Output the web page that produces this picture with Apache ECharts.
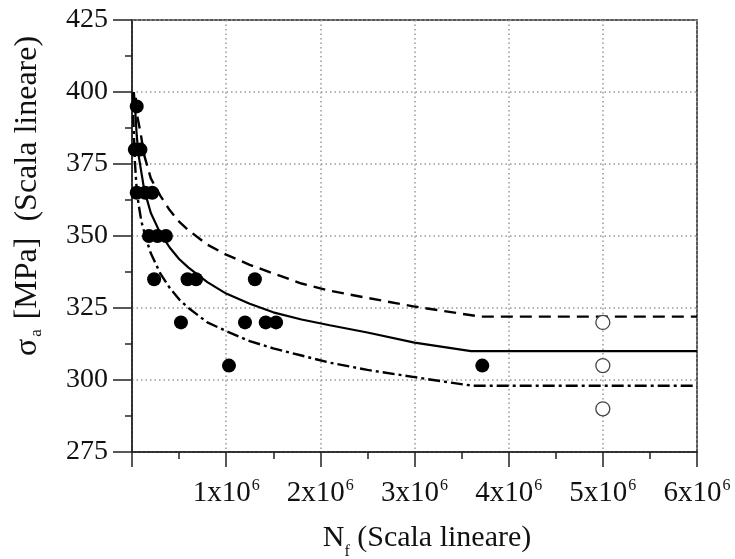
<!DOCTYPE html>
<html>
<head>
<meta charset="utf-8">
<script src="https://cdn.jsdelivr.net/npm/echarts@6/dist/echarts.min.js"></script>
<style>html,body{margin:0;padding:0;background:#fff;}#c{width:735px;height:559px;}</style>
</head>
<body>
<div id="c"></div>
<script>
// Tick values
const xTicks = [0, 1000000, 2000000, 3000000, 4000000, 5000000, 6000000];
const yTicks = [275, 300, 325, 350, 375, 400, 425];

// Failed specimens [Nf, sigma_a]
const failed = [
  [50000, 395],
  [30000, 380], [90000, 380],
  [50000, 365], [140000, 365], [215000, 365],
  [180000, 350], [270000, 350], [360000, 350],
  [235000, 335], [590000, 335], [680000, 335], [1305000, 335],
  [520000, 320], [1200000, 320], [1420000, 320], [1530000, 320],
  [1030000, 305],
  [3720000, 305]
];
// Run-outs [Nf, sigma_a]
const runouts = [[5000000, 320], [5000000, 305], [5000000, 290]];

// Curves [Nf, sigma_a]
const meanCurve = [[20000,400],[30000,396],[50000,385],[70000,378],[100000,372],[130000,366],[200000,358],[300000,351],[400000,346],[500000,342],[600000,339],[800000,334],[1000000,330],[1250000,326.5],[1500000,323.5],[1800000,321],[2100000,319],[2500000,316.5],[3000000,313],[3300000,311.5],[3600000,310],[6000000,310]];
const upperCurve = [[40000,398],[60000,391],[90000,386],[130000,378],[200000,370],[300000,364],[400000,359],[500000,355],[600000,352],[800000,347],[1000000,343.5],[1250000,340],[1500000,337],[1800000,333.5],[2100000,331],[2500000,328.5],[3000000,325.5],[3300000,324],[3700000,322],[6000000,322]];
const lowerCurve = [[8000,400],[15000,390],[30000,376],[50000,366],[70000,361],[100000,355],[150000,349],[200000,344],[300000,337],[400000,332],[500000,328],[600000,325],[800000,320],[1000000,317],[1250000,313.5],[1500000,311],[1800000,308.5],[2100000,306],[2500000,303.5],[3000000,301],[3300000,299.5],[3620000,298],[6000000,298]];

const FONT = 'Liberation Serif';
const chart = echarts.init(document.getElementById('c'));
const lineBase = {type:'line', showSymbol:false, smooth:false, silent:true, z:2};
chart.setOption({
  animation:false,
  backgroundColor:'#fff',
  grid:{left:132, right:38, top:20, bottom:107, show:true, borderColor:'#222', borderWidth:1.5, backgroundColor:'transparent'},
  xAxis:{
    type:'value', min:xTicks[0], max:xTicks[xTicks.length-1], interval:1000000,
    axisLine:{show:true, lineStyle:{color:'#222', width:1.5}},
    axisTick:{show:true, length:15, lineStyle:{color:'#222', width:1.5}},
    minorTick:{show:true, splitNumber:2, length:7, lineStyle:{color:'#222', width:1.5}},
    splitLine:{show:true, lineStyle:{color:'#999', width:1.5, type:[1.5,3]}},
    axisLabel:{
      margin:26, color:'#111', fontFamily:FONT,
      formatter:function(v){ return v===0 ? '' : '{b|' + (v/1000000) + 'x10}{s|6}'; },
      rich:{b:{fontSize:29, fontFamily:FONT, color:'#111', lineHeight:30, verticalAlign:'bottom'}, s:{fontSize:16, fontFamily:FONT, color:'#111', verticalAlign:'top', lineHeight:30, padding:[0,0,14,1]}}
    }
  },
  yAxis:{
    type:'value', min:yTicks[0], max:yTicks[yTicks.length-1], interval:25,
    axisLine:{show:true, lineStyle:{color:'#222', width:1.5}},
    axisTick:{show:true, length:19, lineStyle:{color:'#222', width:1.5}},
    minorTick:{show:true, splitNumber:2, length:7, lineStyle:{color:'#222', width:1.5}},
    splitLine:{show:true, lineStyle:{color:'#999', width:1.5, type:[1.5,3]}},
    axisLabel:{margin:24, fontSize:28, fontFamily:FONT, color:'#111'}
  },
  graphic:[
    {type:'text', x:28, y:196, rotation:Math.PI/2, silent:true,
     style:{text:'{a|σ}{s|a}{a| [MPa]  (Scala lineare)}', align:'center', verticalAlign:'middle',
       rich:{a:{fontSize:32, fontFamily:FONT, fill:'#111', lineHeight:34}, s:{fontSize:17, fontFamily:FONT, fill:'#111', verticalAlign:'bottom', lineHeight:34, padding:[0,2,0,2]}}}},
    {type:'text', x:427, y:538, silent:true,
     style:{text:'{a|N}{s|f}{a| (Scala lineare)}', align:'center', verticalAlign:'middle',
       rich:{a:{fontSize:30, fontFamily:FONT, fill:'#111', lineHeight:32}, s:{fontSize:16, fontFamily:FONT, fill:'#111', verticalAlign:'bottom', lineHeight:32, padding:[0,0,-6,0]}}}}
  ],
  series:[
    Object.assign({}, lineBase, {name:'mean', data:meanCurve, lineStyle:{color:'#000', width:2.2, type:'solid'}}),
    Object.assign({}, lineBase, {name:'upper', data:upperCurve, lineStyle:{color:'#000', width:2.4, type:[12,7]}}),
    Object.assign({}, lineBase, {name:'lower', data:lowerCurve, lineStyle:{color:'#000', width:2.4, type:[12,4,3,4]}}),
    {type:'scatter', name:'failed', data:failed, symbol:'circle', symbolSize:14, itemStyle:{color:'#000', opacity:1}, z:3, silent:true},
    {type:'scatter', name:'runout', data:runouts, symbol:'circle', symbolSize:14, itemStyle:{color:'#fff', borderColor:'#444', borderWidth:1.3, opacity:1}, z:3, silent:true}
  ]
});
</script>
</body>
</html>
